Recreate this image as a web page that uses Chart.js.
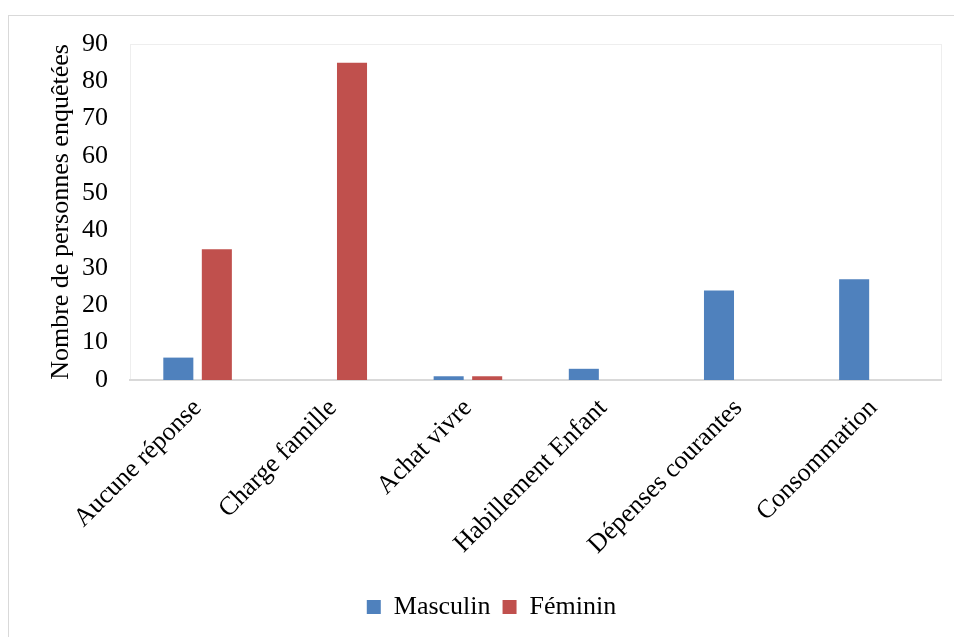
<!DOCTYPE html>
<html>
<head>
<meta charset="utf-8">
<script src="https://cdn.jsdelivr.net/npm/chart.js@4"></script>
<style>
  html, body { margin: 0; padding: 0; background: #fff; }
  #frame {
    position: absolute; left: 8px; top: 15px; width: 960px; height: 640px;
    border: 1px solid #d9d9d9; box-sizing: border-box;
  }
  #wrap { position: absolute; left: 0; top: 0; width: 954px; height: 637px; }
</style>
</head>
<body>
<div id="frame"></div>
<div id="wrap"><canvas id="chart" width="954" height="637"></canvas></div>
<script>
const categories = ['Aucune réponse', 'Charge famille', 'Achat vivre', 'Habillement Enfant', 'Dépenses courantes', 'Consommation'];
const masculin = [6, 0, 1, 3, 24, 27];
const feminin = [35, 85, 1, 0, 0, 0];
const yTicks = [0, 10, 20, 30, 40, 50, 60, 70, 80, 90];

const font = { family: '"Liberation Serif", "Times New Roman", serif', size: 26 };

// light frame around the plot area
const plotFrame = {
  id: 'plotFrame',
  beforeDraw(chart) {
    const { ctx, chartArea: a } = chart;
    ctx.save();
    ctx.strokeStyle = '#eeeeee';
    ctx.lineWidth = 1;
    ctx.strokeRect(a.left + 0.5, a.top + 0.5, a.right - a.left, a.bottom - a.top);
    ctx.restore();
  }
};

new Chart(document.getElementById('chart'), {
  type: 'bar',
  data: {
    labels: categories,
    datasets: [
      { label: 'Masculin', data: masculin, backgroundColor: '#4F81BD', categoryPercentage: 0.57, barPercentage: 0.78 },
      { label: 'Féminin', data: feminin, backgroundColor: '#C0504D', categoryPercentage: 0.57, barPercentage: 0.78 }
    ]
  },
  options: {
    responsive: false,
    animation: false,
    layout: { padding: { left: 42, right: 13, top: 44, bottom: 7 } },
    scales: {
      x: {
        grid: { display: false, drawTicks: false },
        border: { color: '#d9d9d9', width: 2 },
        ticks: { color: '#000', font, minRotation: 45, maxRotation: 45, padding: 13, autoSkip: false },
        afterFit(scale) { scale.height = 202; }
      },
      y: {
        min: 0, max: 90,
        afterBuildTicks(scale) { scale.ticks = yTicks.map(v => ({ value: v })); },
        grid: { display: false, drawTicks: false },
        border: { display: false },
        ticks: { color: '#000', font, padding: 22 },
        title: { display: true, text: 'Nombre de personnes enquêtées', color: '#000', font, padding: 4 },
        afterFit(scale) { scale.width = 88; }
      }
    },
    plugins: {
      legend: {
        position: 'bottom',
        labels: { color: '#000', font, boxWidth: 14, boxHeight: 14, padding: 12 }
      },
      tooltip: { enabled: false }
    }
  },
  plugins: [plotFrame]
});
</script>
</body>
</html>
